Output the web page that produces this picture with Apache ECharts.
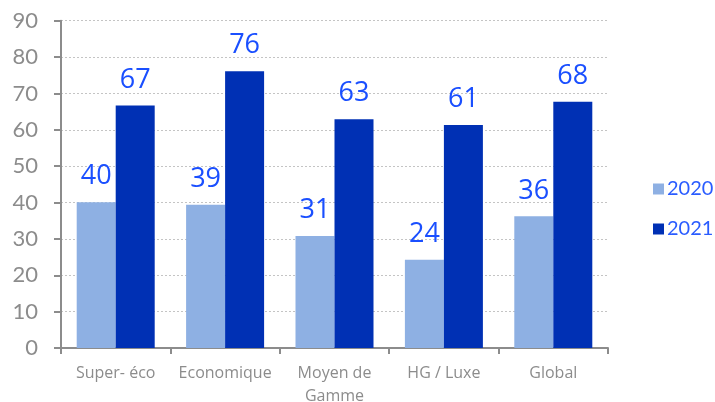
<!DOCTYPE html>
<html><head><meta charset="utf-8">
<script src="https://cdn.jsdelivr.net/npm/echarts@6/dist/echarts.min.js"></script>
<style>html,body{margin:0;padding:0;background:#fff}#c{width:715px;height:402px}</style>
</head><body><div id="c"></div>
<script>
const categories = ['Super- éco', 'Economique', 'Moyen de\nGamme', 'HG / Luxe', 'Global'];
const values2020 = [40.1, 39.4, 30.8, 24.3, 36.2];
const values2021 = [66.7, 76.1, 62.9, 61.3, 67.7];
const seriesNames = ['2020', '2021'];
const yTicks = {min: 0, max: 90, interval: 10};

const chart = echarts.init(document.getElementById('c'));
const font = 'Lato, "Open Sans", sans-serif';
const labelStyle = {show: true, position: 'top', distance: 12, color: '#1a4fff', fontSize: 27, fontFamily: '"Open Sans", sans-serif', formatter: p => Math.round(p.value)};
chart.setOption({
  animation: false,
  grid: {left: 61, right: 107, top: 20.7, bottom: 54, containLabel: false, outerBoundsMode: 'none'},
  legend: {
    orient: 'vertical', left: 648, top: 174, itemWidth: 11, itemHeight: 11, itemGap: 20,
    icon: 'rect',
    textStyle: {color: '#2a5cff', fontSize: 20, fontFamily: font, padding: [0, 0, 0, -2]},
    data: seriesNames
  },
  xAxis: {
    type: 'category', data: categories,
    axisLine: {lineStyle: {color: '#8c8c8c', width: 2}},
    axisTick: {show: true, length: 6, lineStyle: {color: '#8c8c8c', width: 2}},
    axisLabel: {color: '#8c8c8c', fontSize: 16, fontFamily: '"Open Sans", sans-serif', margin: 14, lineHeight: 23, interval: 0}
  },
  yAxis: {
    type: 'value', min: yTicks.min, max: yTicks.max, interval: yTicks.interval,
    axisLine: {show: true, lineStyle: {color: '#8c8c8c', width: 2}},
    axisTick: {show: true, length: 7, lineStyle: {color: '#8c8c8c', width: 2}},
    axisLabel: {color: '#8c8c8c', fontSize: 22, fontFamily: font, margin: 23},
    splitLine: {lineStyle: {color: '#c4c4c4', type: [2, 2], width: 1}}
  },
  series: [
    {name: seriesNames[0], type: 'bar', data: values2020, barWidth: 39, barGap: '0%',
     itemStyle: {color: '#8eb0e3'}, label: labelStyle},
    {name: seriesNames[1], type: 'bar', data: values2021, barWidth: 39,
     itemStyle: {color: '#0030b4'}, label: labelStyle}
  ]
});
</script></body></html>
